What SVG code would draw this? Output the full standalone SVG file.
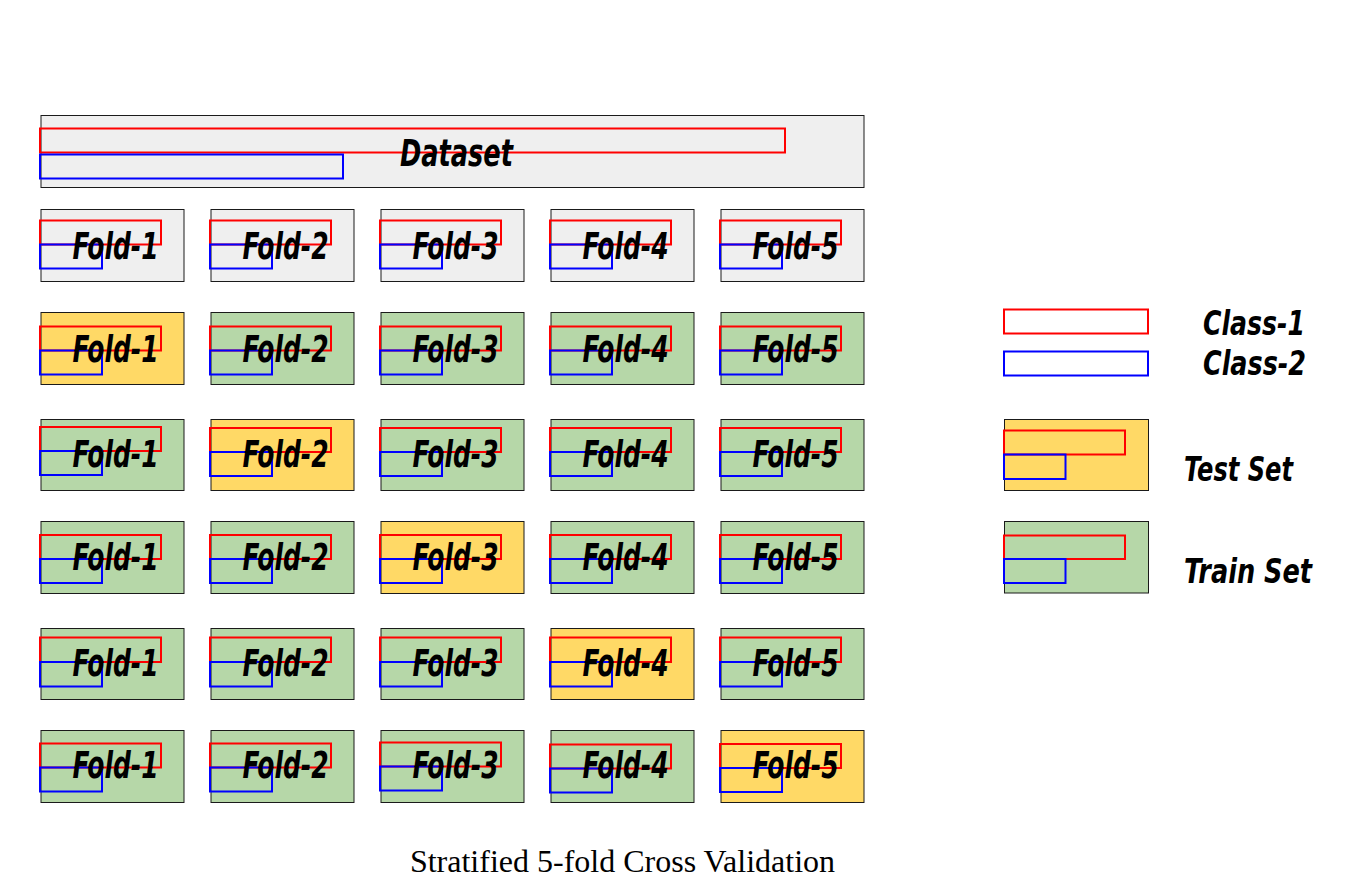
<svg xmlns="http://www.w3.org/2000/svg" width="1352" height="879" viewBox="0 0 1352 879">
<style>
.box{stroke:#1a1a1a;stroke-width:1}
.g{fill:#efefef}.y{fill:#ffd966}.t{fill:#b6d7a8}
.c1{fill:none;stroke:#ff0000;stroke-width:2}
.c2{fill:none;stroke:#0000ff;stroke-width:2}
.h{font-family:"DejaVu Sans Condensed","DejaVu Sans",sans-serif;font-weight:bold;font-style:italic;fill:#000}
.f{font-size:38px}
.l{font-size:34px}
.title{font-family:"Liberation Serif","Times New Roman",serif;font-size:32px;fill:#000}
</style>
<rect width="1352" height="879" fill="#fff"/>
<g id="dataset">
<rect class="box g" x="41" y="115.5" width="823" height="72"/>
<rect class="c1" x="40" y="128.5" width="745" height="24"/>
<rect class="c2" x="40" y="154.5" width="303" height="24"/>
<text class="h f" x="400" y="166" textLength="113" lengthAdjust="spacingAndGlyphs">Dataset</text>
</g>
<g id="folds-row1">
<g id="r1c1"><rect class="box g" x="41" y="209.5" width="143" height="72"/><rect class="c1" x="40" y="220.5" width="121" height="24"/><rect class="c2" x="40" y="244.5" width="62" height="24"/><text class="h f" x="72.5" y="259" textLength="86" lengthAdjust="spacingAndGlyphs">Fold-1</text></g>
<g id="r1c2"><rect class="box g" x="211" y="209.5" width="143" height="72"/><rect class="c1" x="210" y="220.5" width="121" height="24"/><rect class="c2" x="210" y="244.5" width="62" height="24"/><text class="h f" x="242.5" y="259" textLength="86" lengthAdjust="spacingAndGlyphs">Fold-2</text></g>
<g id="r1c3"><rect class="box g" x="381" y="209.5" width="143" height="72"/><rect class="c1" x="380" y="220.5" width="121" height="24"/><rect class="c2" x="380" y="244.5" width="62" height="24"/><text class="h f" x="412.5" y="259" textLength="86" lengthAdjust="spacingAndGlyphs">Fold-3</text></g>
<g id="r1c4"><rect class="box g" x="551" y="209.5" width="143" height="72"/><rect class="c1" x="550" y="220.5" width="121" height="24"/><rect class="c2" x="550" y="244.5" width="62" height="24"/><text class="h f" x="582.5" y="259" textLength="86" lengthAdjust="spacingAndGlyphs">Fold-4</text></g>
<g id="r1c5"><rect class="box g" x="721" y="209.5" width="143" height="72"/><rect class="c1" x="720" y="220.5" width="121" height="24"/><rect class="c2" x="720" y="244.5" width="62" height="24"/><text class="h f" x="752.5" y="259" textLength="86" lengthAdjust="spacingAndGlyphs">Fold-5</text></g>
</g>
<g id="folds-row2">
<g id="r2c1"><rect class="box y" x="41" y="312.5" width="143" height="72"/><rect class="c1" x="40" y="326.5" width="121" height="24"/><rect class="c2" x="40" y="350.5" width="62" height="24"/><text class="h f" x="72.5" y="362" textLength="86" lengthAdjust="spacingAndGlyphs">Fold-1</text></g>
<g id="r2c2"><rect class="box t" x="211" y="312.5" width="143" height="72"/><rect class="c1" x="210" y="326.5" width="121" height="24"/><rect class="c2" x="210" y="350.5" width="62" height="24"/><text class="h f" x="242.5" y="362" textLength="86" lengthAdjust="spacingAndGlyphs">Fold-2</text></g>
<g id="r2c3"><rect class="box t" x="381" y="312.5" width="143" height="72"/><rect class="c1" x="380" y="326.5" width="121" height="24"/><rect class="c2" x="380" y="350.5" width="62" height="24"/><text class="h f" x="412.5" y="362" textLength="86" lengthAdjust="spacingAndGlyphs">Fold-3</text></g>
<g id="r2c4"><rect class="box t" x="551" y="312.5" width="143" height="72"/><rect class="c1" x="550" y="326.5" width="121" height="24"/><rect class="c2" x="550" y="350.5" width="62" height="24"/><text class="h f" x="582.5" y="362" textLength="86" lengthAdjust="spacingAndGlyphs">Fold-4</text></g>
<g id="r2c5"><rect class="box t" x="721" y="312.5" width="143" height="72"/><rect class="c1" x="720" y="326.5" width="121" height="24"/><rect class="c2" x="720" y="350.5" width="62" height="24"/><text class="h f" x="752.5" y="362" textLength="86" lengthAdjust="spacingAndGlyphs">Fold-5</text></g>
</g>
<g id="folds-row3">
<g id="r3c1"><rect class="box t" x="41" y="419.5" width="143" height="71"/><rect class="c1" x="40" y="427" width="121" height="24"/><rect class="c2" x="40" y="451" width="62" height="24"/><text class="h f" x="72.5" y="467" textLength="86" lengthAdjust="spacingAndGlyphs">Fold-1</text></g>
<g id="r3c2"><rect class="box y" x="211" y="419.5" width="143" height="71"/><rect class="c1" x="210" y="428" width="121" height="24"/><rect class="c2" x="210" y="452" width="62" height="24"/><text class="h f" x="242.5" y="467" textLength="86" lengthAdjust="spacingAndGlyphs">Fold-2</text></g>
<g id="r3c3"><rect class="box t" x="381" y="419.5" width="143" height="71"/><rect class="c1" x="380" y="428" width="121" height="24"/><rect class="c2" x="380" y="452" width="62" height="24"/><text class="h f" x="412.5" y="467" textLength="86" lengthAdjust="spacingAndGlyphs">Fold-3</text></g>
<g id="r3c4"><rect class="box t" x="551" y="419.5" width="143" height="71"/><rect class="c1" x="550" y="428" width="121" height="24"/><rect class="c2" x="550" y="452" width="62" height="24"/><text class="h f" x="582.5" y="467" textLength="86" lengthAdjust="spacingAndGlyphs">Fold-4</text></g>
<g id="r3c5"><rect class="box t" x="721" y="419.5" width="143" height="71"/><rect class="c1" x="720" y="428" width="121" height="24"/><rect class="c2" x="720" y="452" width="62" height="24"/><text class="h f" x="752.5" y="467" textLength="86" lengthAdjust="spacingAndGlyphs">Fold-5</text></g>
</g>
<g id="folds-row4">
<g id="r4c1"><rect class="box t" x="41" y="521.5" width="143" height="72"/><rect class="c1" x="40" y="535" width="121" height="24"/><rect class="c2" x="40" y="559" width="62" height="24"/><text class="h f" x="72.5" y="570" textLength="86" lengthAdjust="spacingAndGlyphs">Fold-1</text></g>
<g id="r4c2"><rect class="box t" x="211" y="521.5" width="143" height="72"/><rect class="c1" x="210" y="535" width="121" height="24"/><rect class="c2" x="210" y="559" width="62" height="24"/><text class="h f" x="242.5" y="570" textLength="86" lengthAdjust="spacingAndGlyphs">Fold-2</text></g>
<g id="r4c3"><rect class="box y" x="381" y="521.5" width="143" height="72"/><rect class="c1" x="380" y="535" width="121" height="24"/><rect class="c2" x="380" y="559" width="62" height="24"/><text class="h f" x="412.5" y="570" textLength="86" lengthAdjust="spacingAndGlyphs">Fold-3</text></g>
<g id="r4c4"><rect class="box t" x="551" y="521.5" width="143" height="72"/><rect class="c1" x="550" y="535" width="121" height="24"/><rect class="c2" x="550" y="559" width="62" height="24"/><text class="h f" x="582.5" y="570" textLength="86" lengthAdjust="spacingAndGlyphs">Fold-4</text></g>
<g id="r4c5"><rect class="box t" x="721" y="521.5" width="143" height="72"/><rect class="c1" x="720" y="535" width="121" height="24"/><rect class="c2" x="720" y="559" width="62" height="24"/><text class="h f" x="752.5" y="570" textLength="86" lengthAdjust="spacingAndGlyphs">Fold-5</text></g>
</g>
<g id="folds-row5">
<g id="r5c1"><rect class="box t" x="41" y="628.5" width="143" height="71"/><rect class="c1" x="40" y="637.5" width="121" height="24.5"/><rect class="c2" x="40" y="662" width="62" height="24.5"/><text class="h f" x="72.5" y="676" textLength="86" lengthAdjust="spacingAndGlyphs">Fold-1</text></g>
<g id="r5c2"><rect class="box t" x="211" y="628.5" width="143" height="71"/><rect class="c1" x="210" y="637.5" width="121" height="24.5"/><rect class="c2" x="210" y="662" width="62" height="24.5"/><text class="h f" x="242.5" y="676" textLength="86" lengthAdjust="spacingAndGlyphs">Fold-2</text></g>
<g id="r5c3"><rect class="box t" x="381" y="628.5" width="143" height="71"/><rect class="c1" x="380" y="637.5" width="121" height="24.5"/><rect class="c2" x="380" y="662" width="62" height="24.5"/><text class="h f" x="412.5" y="676" textLength="86" lengthAdjust="spacingAndGlyphs">Fold-3</text></g>
<g id="r5c4"><rect class="box y" x="551" y="628.5" width="143" height="71"/><rect class="c1" x="550" y="637.5" width="121" height="24.5"/><rect class="c2" x="550" y="662" width="62" height="24.5"/><text class="h f" x="582.5" y="676" textLength="86" lengthAdjust="spacingAndGlyphs">Fold-4</text></g>
<g id="r5c5"><rect class="box t" x="721" y="628.5" width="143" height="71"/><rect class="c1" x="720" y="637.5" width="121" height="24.5"/><rect class="c2" x="720" y="662" width="62" height="24.5"/><text class="h f" x="752.5" y="676" textLength="86" lengthAdjust="spacingAndGlyphs">Fold-5</text></g>
</g>
<g id="folds-row6">
<g id="r6c1"><rect class="box t" x="41" y="730.5" width="143" height="72"/><rect class="c1" x="40" y="743.5" width="121" height="24"/><rect class="c2" x="40" y="767.5" width="62" height="24"/><text class="h f" x="72.5" y="778" textLength="86" lengthAdjust="spacingAndGlyphs">Fold-1</text></g>
<g id="r6c2"><rect class="box t" x="211" y="730.5" width="143" height="72"/><rect class="c1" x="210" y="743.5" width="121" height="24"/><rect class="c2" x="210" y="767.5" width="62" height="24"/><text class="h f" x="242.5" y="778" textLength="86" lengthAdjust="spacingAndGlyphs">Fold-2</text></g>
<g id="r6c3"><rect class="box t" x="381" y="730.5" width="143" height="72"/><rect class="c1" x="380" y="742.5" width="121" height="24"/><rect class="c2" x="380" y="766.5" width="62" height="24"/><text class="h f" x="412.5" y="778" textLength="86" lengthAdjust="spacingAndGlyphs">Fold-3</text></g>
<g id="r6c4"><rect class="box t" x="551" y="730.5" width="143" height="72"/><rect class="c1" x="550" y="744.5" width="121" height="24"/><rect class="c2" x="550" y="768.5" width="62" height="24"/><text class="h f" x="582.5" y="778" textLength="86" lengthAdjust="spacingAndGlyphs">Fold-4</text></g>
<g id="r6c5"><rect class="box y" x="721" y="730.5" width="143" height="72"/><rect class="c1" x="720" y="744" width="121" height="24"/><rect class="c2" x="720" y="768" width="62" height="24"/><text class="h f" x="752.5" y="778" textLength="86" lengthAdjust="spacingAndGlyphs">Fold-5</text></g>
</g>
<g id="legend">
<g id="leg-class1"><rect class="c1" x="1004" y="309.5" width="144" height="24"/><text class="h l" x="1203" y="335" textLength="102" lengthAdjust="spacingAndGlyphs">Class-1</text></g>
<g id="leg-class2"><rect class="c2" x="1004" y="351.5" width="144" height="24"/><text class="h l" x="1203" y="375" textLength="103" lengthAdjust="spacingAndGlyphs">Class-2</text></g>
<g id="leg-test"><rect class="box y" x="1004.5" y="419.5" width="144" height="71"/><rect class="c1" x="1004" y="430.5" width="121" height="24"/><rect class="c2" x="1004" y="454.5" width="61.5" height="24.5"/><text class="h l" x="1184" y="481" textLength="109" lengthAdjust="spacingAndGlyphs">Test Set</text></g>
<g id="leg-train"><rect class="box t" x="1004.5" y="521.5" width="144" height="71.5"/><rect class="c1" x="1004" y="535.5" width="121" height="23.5"/><rect class="c2" x="1004" y="559" width="61.5" height="24"/><text class="h l" x="1184" y="583" textLength="128" lengthAdjust="spacingAndGlyphs">Train Set</text></g>
</g>
<g id="connectors"></g>
<text class="title" x="622.5" y="872" text-anchor="middle">Stratified 5-fold Cross Validation</text>
</svg>
